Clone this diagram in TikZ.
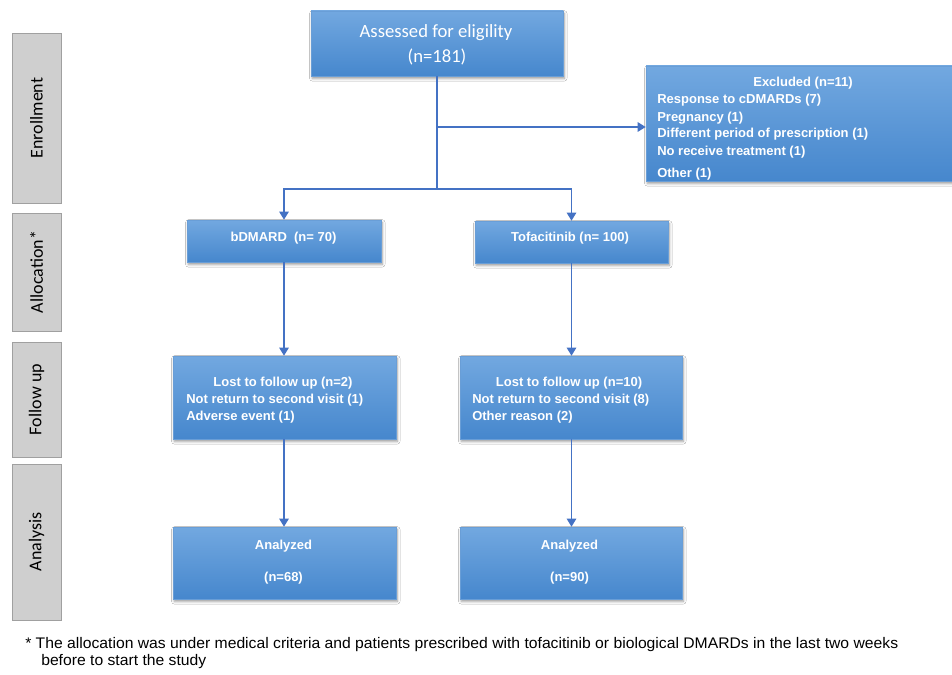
\documentclass[tikz,border=0pt]{standalone}
\usepackage{fontspec}
\setmainfont{Liberation Sans}
\newfontfamily\calib{Carlito}
\usetikzlibrary{arrows.meta,shadows.blur}
\definecolor{linkc}{RGB}{68,114,196}
\definecolor{btop}{RGB}{114,168,224}
\definecolor{bbot}{RGB}{70,135,205}
\definecolor{bedge}{RGB}{105,158,215}
\definecolor{gfill}{RGB}{207,207,207}
\definecolor{gedge}{RGB}{160,160,160}
\newlength\fnw
\newcommand\fnlineone{* The allocation was under medical criteria and patients prescribed with tofacitinib or biological DMARDs in the last two weeks}
\newcommand\fnsize{\fontsize{11.5}{13}\selectfont}
\begin{document}
\settowidth\fnw{\fnsize\fnlineone}%
\pgfmathsetmacro\fnsx{654.75/\fnw}%
\begin{tikzpicture}[x=0.75pt,y=-0.75pt,
 bluebox/.style={draw=bedge, line width=0.4pt, top color=btop, bottom color=bbot, inner sep=0pt,
   blur shadow={shadow xshift=1pt, shadow yshift=-1.8pt, shadow blur radius=2pt, shadow opacity=40}},
 bt/.style={text=white, inner sep=0pt, anchor=base, font=\fontsize{9.75}{12}\selectfont\bfseries},
 btl/.style={bt, anchor=base west},
 ct/.style={text=white, inner sep=0pt, anchor=base, font=\calib\fontsize{14}{17}\selectfont},
 sidebox/.style={draw=gedge, fill=gfill, rotate=90, inner sep=0pt, minimum height=36.75pt,
   font=\calib\fontsize{13.5}{16}\selectfont, text=black},
 link/.style={draw=linkc, line width=1.1pt},
 arr/.style={link, -{Triangle[width=7pt,length=6pt]}},
 fnote/.style={anchor=base west, inner sep=0pt, font=\fnsize},
]
\useasboundingbox (0,0) rectangle (952,674);
\fill[white] (0,0) rectangle (952,674);

% side labels
\node[sidebox, minimum width=127.5pt] (s1) at (36.5,118) {Enrollment};
\node[sidebox, minimum width=88.5pt] (s2) at (36.5,272) {Allocation*};
\node[sidebox, minimum width=86.25pt] (s3) at (36.5,399.5) {Follow up};
\node[sidebox, minimum width=117pt] (s4) at (36.5,542) {Analysis};

% boxes
\node[bluebox, minimum width=189pt, minimum height=48.75pt] (assess) at (437,43.5) {};
\node[bluebox, minimum width=235.5pt, minimum height=86.25pt] (excl) at (803,123.5) {};
\node[bluebox, minimum width=145.5pt, minimum height=31.5pt] (bd) at (284,241) {};
\node[bluebox, minimum width=144.75pt, minimum height=31.5pt] (tofa) at (571.5,242) {};
\node[bluebox, minimum width=167.25pt, minimum height=62.25pt] (fl1) at (284.5,397.5) {};
\node[bluebox, minimum width=166.5pt, minimum height=62.25pt] (fl2) at (571,397.5) {};
\node[bluebox, minimum width=167.25pt, minimum height=54pt] (an1) at (284.5,563) {};
\node[bluebox, minimum width=166.5pt, minimum height=54pt] (an2) at (571,563) {};

% box texts
\node[ct] (as1) at (436,37.5) {Assessed for eligility};
\node[ct] (as2) at (437,63) {(n=181)};

\node[bt] (ex0) at (803,86) {Excluded (n=11)};
\node[btl] (ex1) at (657,103.7) {Response to cDMARDs (7)};
\node[btl] (ex2) at (657,121) {Pregnancy (1)};
\node[btl] (ex3) at (657,137.7) {Different period of prescription (1)};
\node[btl] (ex4) at (657,155.3) {No receive treatment (1)};
\node[btl] (ex5) at (657,177.5) {Other (1)};

\node[bt] (bdt) at (283.5,241) {bDMARD\ \ (n= 70)};
\node[bt] (tot) at (570,241) {Tofacitinib (n= 100)};

\node[bt] (f10) at (283,386.5) {Lost to follow up (n=2)};
\node[btl] (f11) at (186,403) {Not return to second visit (1)};
\node[btl] (f12) at (186,420) {Adverse event (1)};
\node[bt] (f20) at (569,386) {Lost to follow up (n=10)};
\node[btl] (f21) at (472,403) {Not return to second visit (8)};
\node[btl] (f22) at (472,420) {Other reason (2)};

\node[bt] (a10) at (283.5,549.5) {Analyzed};
\node[bt] (a11) at (283.5,581) {(n=68)};
\node[bt] (a20) at (569.5,549.5) {Analyzed};
\node[bt] (a21) at (569.5,581) {(n=90)};

% connectors
\coordinate (k) at (437,127);
\coordinate (j) at (437,189);
\draw[link] (assess.south) -- (j);
\draw[arr] (k) -- (k -| excl.west);
\draw[arr] (j) -| (bd.north);
\draw[arr] (j) -| (tofa.north);
\draw[arr] (bd.south) -- (bd.south |- fl1.north);
\draw[arr] (tofa.south) -- (tofa.south |- fl2.north);
\draw[arr] (bd.south |- fl1.south) -- (bd.south |- an1.north);
\draw[arr] (tofa.south |- fl2.south) -- (tofa.south |- an2.north);

% footnote
\node[fnote] (fn1) at (25,648) {\scalebox{\fnsx}[1]{\fnlineone}};
\node[fnote] (fn2) at (41,665.5) {\scalebox{\fnsx}[1]{before to start the study}};
\end{tikzpicture}
\end{document}
